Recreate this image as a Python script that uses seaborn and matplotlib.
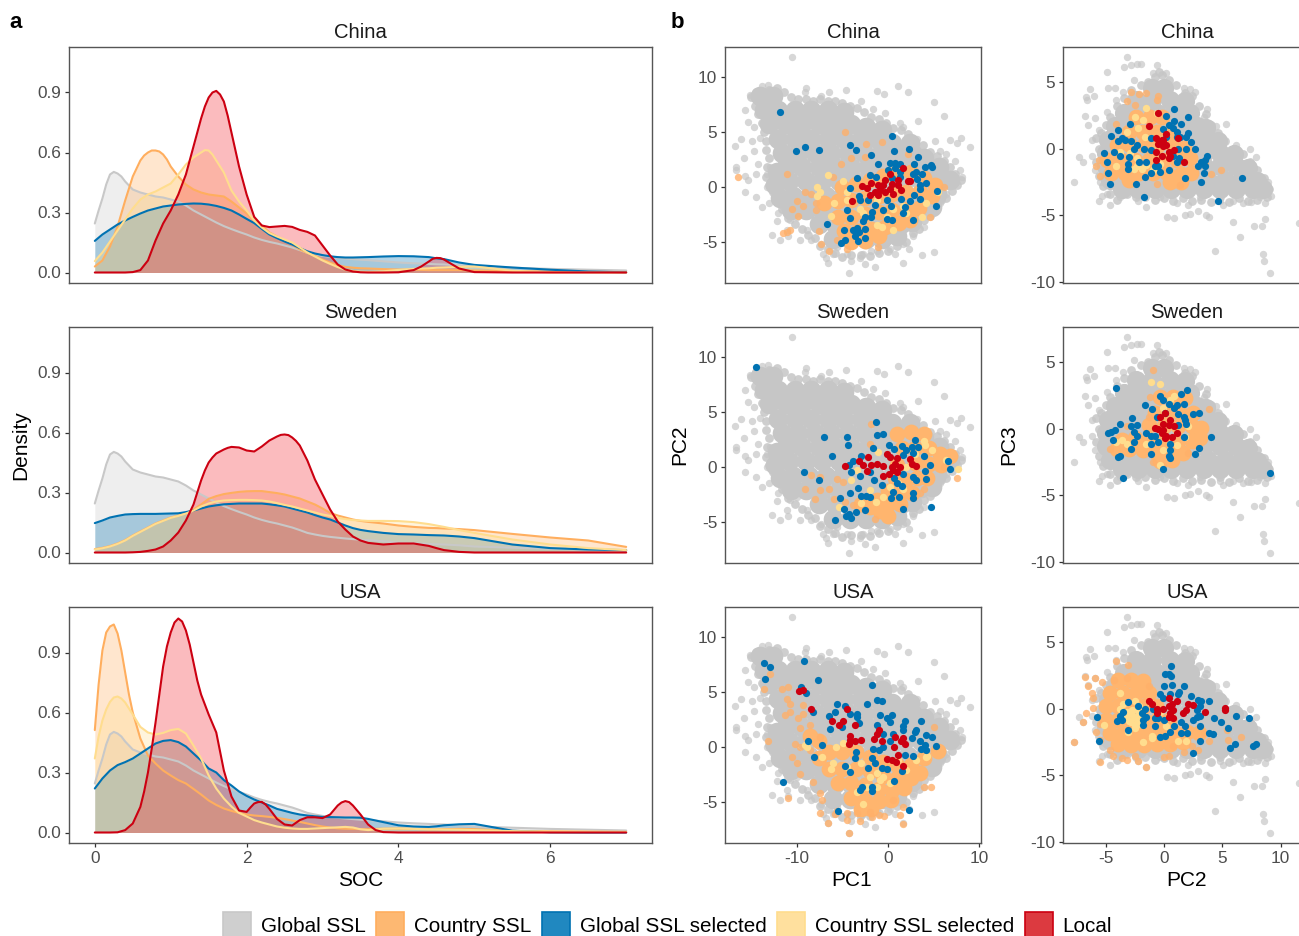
import numpy as np
import pandas as pd
import seaborn as sns
import matplotlib
matplotlib.use("Agg")
import matplotlib.pyplot as plt
from matplotlib.patches import Patch

sns.set_theme(style="white")
plt.rcParams["font.family"] = ["Liberation Sans", "DejaVu Sans"]
plt.rcParams["axes.unicode_minus"] = False

COUNTRIES = ["China", "Sweden", "USA"]
SOURCES = ["Global SSL", "Country SSL", "Global SSL selected", "Country SSL selected", "Local"]
COLORS = {"Global SSL": "#C8C8C8", "Country SSL": "#FFAE5E", "Global SSL selected": "#0072B2",
          "Country SSL selected": "#FFDD8E", "Local": "#CC0011"}
FILLS = {"Global SSL": "#C8C8C8", "Country SSL": "#FFAE5E", "Global SSL selected": "#0072B2",
         "Country SSL selected": "#FFDD8E", "Local": "#F5202A"}
LEGEND_FILLS = {"Global SSL": "#CFCFCF", "Country SSL": "#FDB872", "Global SSL selected": "#2088C0",
                "Country SSL selected": "#FFE09E", "Local": "#DC3A40"}

SOC = [0, .1, .2, .3, .4, .5, .6, .7, .8, .9, 1.0, 1.1, 1.2, 1.3, 1.4, 1.5, 1.6, 1.7, 1.8, 1.9, 2.0, 2.1, 2.2, 2.3, 2.4,
       2.5, 2.6, 2.7, 2.8, 2.9, 3.0, 3.1, 3.2, 3.3, 3.4, 3.5, 3.6, 3.8, 4.0, 4.2, 4.4, 4.5, 4.6, 4.8, 5.0, 5.5, 6, 6.5, 7]

GLOBAL_D = [.245, .37, .49, .495, .455, .415, .40, .39, .38, .375, .365, .355, .335, .31, .29, .27, .25, .232, .217, .203,
            .19, .175, .163, .153, .145, .135, .125, .112, .098, .09, .083, .078, .074, .07, .067, .064, .062, .056, .05,
            .046, .043, .041, .04, .036, .03, .024, .018, .014, .01]
GLOBAL_PEAK = [(.05, .31), (.15, .44), (.25, .503), (.35, .48)]

CHINA_COUNTRY_D = [.03, .06, .13, .23, .36, .48, .56, .60, .61, .59, .53, .48, .44, .415, .40, .39, .385, .38, .355, .325,
                   .295, .26, .235, .20, .18, .16, .138, .115, .098, .083, .065, .05, .037, .028, .024, .021, .02, .017,
                   .015, .014, .012, .012, .012, .012, .01, .007, .005, .003, .002]
CHINA_COUNTRY_PEAK = [(.65, .585), (.75, .61), (.85, .605), (.95, .565)]
CHINA_GSEL_D = [.158, .19, .215, .24, .26, .278, .295, .31, .32, .33, .335, .34, .343, .345, .344, .34, .333, .323, .31, .29,
                .268, .247, .218, .19, .172, .155, .14, .122, .106, .095, .087, .081, .077, .075, .075, .076, .077, .08,
                .082, .081, .077, .071, .067, .05, .038, .025, .014, .005, .001]
CHINA_CSEL_D = [.057, .1, .155, .21, .265, .32, .365, .39, .405, .425, .445, .49, .54, .575, .60, .61, .56, .50, .41, .355,
                .31, .26, .225, .197, .18, .165, .15, .125, .10, .08, .06, .043, .027, .014, .008, .004, .003, .006, .013,
                .018, .021, .024, .025, .028, .03, .009, 0, 0, 0]
CHINA_CSEL_PEAK = [(1.45, .612), (1.55, .59), (1.65, .53)]
CHINA_LOCAL_D = [0, 0, 0, 0, 0, .002, .012, .06, .16, .245, .31, .39, .49, .63, .77, .875, .908, .855, .70, .53, .39, .278,
                 .235, .227, .23, .233, .228, .213, .203, .185, .135, .085, .04, .015, .005, .001, 0, 0, .001, .012, .055,
                 .073, .065, .02, .002, 0, 0, 0, 0]
CHINA_LOCAL_PEAK = [(1.35, .70), (1.45, .83), (1.55, .90), (1.65, .89), (1.75, .785), (1.85, .615), (4.45, .068), (4.55, .072),
                    (4.3, .03), (4.7, .042)]

SWEDEN_COUNTRY_D = [.017, .023, .032, .045, .062, .085, .105, .125, .145, .16, .175, .185, .197, .215, .24, .268, .282, .292,
                    .298, .303, .306, .307, .307, .302, .297, .29, .28, .27, .255, .24, .22, .198, .185, .175, .165, .158,
                    .153, .145, .135, .128, .123, .122, .12, .117, .112, .093, .075, .06, .028]
SWEDEN_GSEL_D = [.147, .16, .175, .183, .19, .192, .193, .193, .193, .194, .195, .196, .202, .21, .22, .23, .236, .241, .243,
                 .245, .245, .245, .245, .241, .236, .23, .22, .21, .2, .187, .175, .165, .15, .135, .122, .113, .107, .098,
                 .092, .09, .087, .086, .085, .08, .072, .04, .022, .015, .012]
SWEDEN_CSEL_D = [.015, .021, .03, .043, .06, .083, .103, .123, .143, .158, .173, .183, .195, .21, .23, .245, .255, .26, .262,
                 .263, .263, .262, .26, .255, .247, .238, .23, .22, .21, .2, .19, .183, .173, .167, .162, .16, .158, .158,
                 .157, .152, .142, .135, .128, .112, .098, .065, .04, .022, .012]
SWEDEN_LOCAL_D = [0, 0, 0, 0, 0, .001, .003, .008, .015, .03, .06, .10, .16, .24, .36, .45, .495, .515, .528, .525, .51, .505,
                  .53, .56, .58, .59, .575, .535, .46, .365, .29, .215, .155, .115, .08, .06, .048, .04, .045, .045, .033,
                  .022, .012, .003, 0, 0, 0, 0, 0]
SWEDEN_LOCAL_PEAK = [(1.45, .41), (1.55, .475), (1.75, .523), (2.45, .588), (2.55, .587), (2.65, .558)]

USA_COUNTRY_D = [.512, .91, 1.03, .995, .80, .60, .47, .385, .345, .31, .285, .262, .245, .218, .19, .16, .138, .12, .108,
                 .098, .09, .085, .082, .078, .073, .067, .06, .053, .045, .037, .03, .025, .021, .019, .018, .017, .017,
                 .019, .02, .018, .016, .016, .017, .018, .017, .008, .006, .004, .003]
USA_COUNTRY_PEAK = [(.05, .74), (.15, 1.0), (.25, 1.04), (.35, .91), (.45, .69)]
USA_GSEL_D = [.22, .27, .31, .337, .352, .37, .395, .42, .445, .458, .462, .452, .43, .395, .36, .32, .30, .262, .235, .205,
              .183, .165, .15, .135, .118, .108, .098, .09, .085, .081, .078, .077, .076, .075, .075, .074, .068, .052, .036,
              .03, .028, .031, .036, .041, .043, .009, .001, 0, 0]
USA_CSEL_D = [.37, .56, .653, .68, .65, .59, .528, .50, .49, .498, .512, .518, .495, .435, .37, .285, .22, .17, .13, .098,
              .08, .062, .05, .04, .03, .024, .02, .018, .018, .02, .022, .024, .026, .028, .025, .016, .012, .019, .02, .018,
              .016, .016, .015, .014, .012, .007, .005, .004, .003]
USA_CSEL_PEAK = [(.05, .48), (.15, .615), (.25, .675), (.35, .67)]
USA_LOCAL_D = [0, 0, 0, .001, .012, .045, .128, .30, .55, .83, 1.0, 1.07, 1.01, .85, .69, .59, .50, .31, .18, .11, .103, .145,
               .153, .118, .068, .04, .035, .062, .076, .076, .072, .09, .135, .157, .135, .09, .04, .002, 0, 0, 0, 0, 0, 0,
               0, 0, 0, 0, 0]
USA_LOCAL_PEAK = [(.65, .205), (.75, .42), (.85, .69), (.95, .93), (1.05, 1.05), (1.15, 1.055), (1.25, .94), (1.35, .76), (2.05, .125),
                  (2.15, .152), (2.25, .14), (3.25, .15), (3.35, .152), (3.7, .012)]

DENSITY = {
    "China": [(GLOBAL_D, GLOBAL_PEAK), (CHINA_COUNTRY_D, CHINA_COUNTRY_PEAK), (CHINA_GSEL_D, []), (CHINA_CSEL_D, CHINA_CSEL_PEAK),
              (CHINA_LOCAL_D, CHINA_LOCAL_PEAK)],
    "Sweden": [(GLOBAL_D, GLOBAL_PEAK), (SWEDEN_COUNTRY_D, []), (SWEDEN_GSEL_D, []), (SWEDEN_CSEL_D, []), (SWEDEN_LOCAL_D, SWEDEN_LOCAL_PEAK)],
    "USA": [(GLOBAL_D, GLOBAL_PEAK), (USA_COUNTRY_D, USA_COUNTRY_PEAK), (USA_GSEL_D, []), (USA_CSEL_D, USA_CSEL_PEAK), (USA_LOCAL_D, USA_LOCAL_PEAK)],
}

# ---------- PC1 / PC2 ----------
GLOBAL_12_DENSE = [(-14, 8.3), (-12.6, 8.3), (-1, 5), (-.6, 5.2), (2.4, 4), (4, 2.6), (5.6, 1.8), (4.8, -1.8),
    (-12.2, 1.4), (-12.4, .2), (-11.8, -1), (-10.6, -2.1),
    (-13.6, 7), (-12, 7), (-10.2, 7), (-8.4, 7), (-6.6, 7), (-4.8, 6.8),
    (-13, 5.7), (-11.2, 5.7), (-9.4, 5.7), (-7.6, 5.7), (-5.8, 5.7), (-4, 5.7), (-2.4, 5.5),
    (-12, 4.4), (-10.2, 4.4), (-8.4, 4.4), (-6.6, 4.4), (-4.8, 4.4), (-3, 4.4), (-1.2, 4.4), (.4, 4),
    (-11.6, 3.1), (-9.8, 3.1), (-8, 3.1), (-6.2, 3.1), (-4.4, 3.1), (-2.6, 3.1), (-.8, 3.1), (1, 3.1), (2.8, 3),
    (-11.2, 1.8), (-9.4, 1.8), (-7.6, 1.8), (-5.8, 1.8), (-4, 1.8), (-2.2, 1.8), (-.4, 1.8), (1.4, 1.8), (3.2, 1.8), (5, 1.6),
    (-10.8, .5), (-9, .5), (-7.2, .5), (-5.4, .5), (-3.6, .5), (-1.8, .5), (0, .5), (1.8, .5), (3.6, .5), (5.4, .5), (6.8, .6),
    (-10.4, -.8), (-8.6, -.8), (-6.8, -.8), (-5, -.8), (-3.2, -.8), (-1.4, -.8), (.4, -.8), (2.2, -.8), (4, -.8), (5.4, -.6),
    (-9, -2.1), (-7.2, -2.1), (-5.4, -2.1), (-3.6, -2.1), (-1.8, -2.1), (0, -2.1), (1.8, -2.1), (3.6, -1.9),
    (-7.6, -3.4), (-5.8, -3.4), (-4, -3.4), (-2.2, -3.4), (-.4, -3.4), (1.4, -3.4), (2.6, -3.2),
    (-6, -4.7), (-4.2, -4.7), (-2.4, -4.7), (-.6, -4.7), (1, -4.5)]
GLOBAL_12_RIM = [(-15, 8.2), (-14.6, 7.4), (-14.2, 6.6), (-13.8, 5.8), (-13.6, 5), (-13.4, 4.2), (-13.4, 3.4), (-13, 2.6), (-13.2, 1.8), (-13.4, .9),
    (-13, .2), (-12.6, -.5), (-12.2, -1.2), (-11.6, -2), (-11, -2.8), (-10.2, -3.4), (-9.4, -3.8), (-8.8, -4.4), (-8, -4.6), (-7.4, -5.4), (-6.6, -5.6),
    (-5.8, -6), (-5, -6.4), (-4, -6.2), (-3, -6.2), (-2, -6.3), (-1, -6), (0, -5.8), (1, -5.4), (2, -5), (2.8, -4.2), (3.4, -3.8), (4, -3), (4.6, -2.6),
    (5.2, -2), (5.8, -1.2), (6.4, -1), (7, -.4), (7.6, .2), (8, .6), (7.4, 1.2), (6.8, 1.8), (6.2, 2.4), (5.4, 2.8), (4.6, 3.2), (3.8, 3.8), (3, 4.2),
    (2.2, 4.8), (1.4, 5.2), (.6, 5.4), (-.2, 5.8), (-1, 6.2), (-1.8, 6.4), (-2.6, 6.8), (-3.4, 7.2), (-4.2, 7.4), (-5, 7.6), (-5.8, 7.8), (-6.6, 7.8),
    (-7.4, 8), (-8.2, 7.8), (-9, 8), (-9.8, 8), (-10.6, 8.2), (-11.4, 8.6), (-12.2, 9), (-13, 8.8), (-13.6, 8.6), (-14.4, 8.6)]
GLOBAL_12_SPREAD = [(-10.5, 11.8), (-16.7, 3.7), (-16.1, 4.4), (-15.7, 7), (-15.1, 8.4), (-13.8, 9.2), (-13.1, 9.3),
    (-14.6, 8), (-15.3, 5.9), (-14.7, 5.5), (-15.8, 2.6), (-16.6, 1.8), (-16.6, 1.5), (-15.7, 1), (-15.7, -.5), (-14.4, -.9),
    (-13.8, -1.8), (-13, -1.5), (-12, -2.4), (-12.2, -3.1), (-12.7, -4.4), (-11.8, -4.8), (-10.9, -4.5), (-9.6, -4.8),
    (-8.4, -4.8), (-7.3, -5.2), (-6.8, -6.5), (-6.6, -6.9), (-6, -6.1), (-4.3, -7.8), (-4, -6.7), (-3.1, -6.5), (-2.5, -7),
    (-1.4, -7.3), (-1.8, -5.8), (.8, -6.1), (1.7, -6.9), (2.3, -5.6), (3.7, -6.2), (5.1, -5.9), (1.1, 9.2), (2.2, 8.6),
    (-1.2, 8.7), (-.4, 8.5), (-4.6, 8.8), (-9, 9), (-9.1, 8.6), (-7.3, 8.3), (-6.4, 8.6), (-2.9, 7.8), (-1.6, 7.1), (-.3, 6.7),
    (1.3, 5.8), (3.3, 6), (5.1, 7.7), (6.2, 6.5), (1.7, 5.5), (3.2, 4.4), (5.2, 4.2), (6.8, 4.3), (8, 4.5), (7.6, 4), (9, 3.6),
    (5.7, 3.3), (8.1, .9), (7.9, 1.5), (7.3, 2.4), (6.4, 3), (7.2, .6), (6.4, -.6), (5.7, -1.5), (5.1, -2.1), (3.9, -3.6),
    (2.8, -4.5), (1.7, -5.2), (.2, -5.6), (-1.2, -5.8), (-2.7, -6.1), (-4.5, -6.1), (-5.6, -5.5), (-7.1, -6.1), (-11.1, -3.9),
    (-10.7, -3), (-11.5, -1.8), (-13.3, 0), (-14.4, 1.2), (-14.9, 4.2), (-14.7, 3.3), (-14.2, 2.1), (-15.3, .6), (-12.9, 1.8),
    (-14, 4.5), (-13.3, 1.2), (-12, -.9), (-10, -2.7), (-8.9, -3.9)]

CHINA_12_COUNTRY_DENSE = [(-5, 0), (-3.5, .3), (-2, .6), (-.5, 1), (1, 1.4), (2.5, 1.4), (4, .8), (5.2, .2),
    (-7, -1.5), (-5.5, -1.3), (-4, -1.2), (-2.5, -1), (-1, -.8), (.5, -.6), (2, -.5), (3.5, -.5), (4.8, -.8),
    (-5.5, -2.7), (-4, -2.7), (-2.5, -2.5), (-1, -2.3), (.5, -2.1), (2, -2), (3.4, -1.9),
    (-4.8, -4), (-3.3, -4), (-1.8, -3.8), (-.3, -3.6), (1.2, -3.3), (2.4, -3), (-4, -5), (-2.5, -4.9), (-1, -4.5)]
CHINA_12_COUNTRY = [(-4.7, 5), (-2.4, 3.9), (-.7, 4.1), (-11.1, 1.2), (-16.4, .9), (-9.1, -.5), (-10, -1.3), (-10.5, -2),
    (-9.3, -1.7), (-9.9, -2.6), (-11.5, -4.2), (-11.1, -4.1), (-10.7, -3.9), (-7.6, -4), (-7.3, -5.2), (-6.5, -5.8), (-1.1, -5.5),
    (-5.1, 2.1), (-4, 2.6), (-2.5, 2.7), (-7.9, -1.5), (-7.9, -2.1), (-8.4, -.6), (-6, .9), (2.2, 3), (-4.5, -5.6), (-5.6, -4.8),
    (4.6, -2.7), (6.1, 0)]
CHINA_12_CSEL = [(-6.6, 1.1), (-7.8, 0), (-7.4, -.5), (-7.8, -.8), (-4.9, .5), (-5.9, -1.5), (-6.2, -2.6), (-4.5, -.5), (-3.1, -2),
    (-1.2, -1.2), (.6, -2), (1.7, -1.7), (-1.2, -3.5), (.6, -3.9), (3.7, -2.7), (4.2, -1.5), (2, -2.4), (-.1, -2.7), (-2.7, -2.4),
    (5.5, -.5), (-.7, -3.6), (-4.5, -1.2)]
CHINA_12_GSEL = [(-11.8, 6.8), (-10.1, 3.3), (-9.1, 3.6), (-7.6, 3.4), (-4.2, 3.8), (-3.5, 3.4), (-1.8, 2.9), (.5, 4.6), (.7, 3.3),
    (2.3, 3.5), (3.3, 2.7), (-1.1, 2.1), (.2, 2.2), (.8, 2.2), (1.3, 2.1), (2.9, 2.1), (4.1, 1.8), (4.7, 2), (4.8, 1.8), (0, 1.5),
    (.8, 1.7), (1.3, 1.4), (3.1, 1.4), (2.8, 1.2), (3.7, 1.2), (-2, 1.1), (-3.4, .8), (-1.3, .9), (.4, .8), (1.3, .9), (3.2, .7),
    (3.5, .2), (4.2, .4), (-4.1, -.1), (5.4, -.4), (5.3, -1.7), (3.5, -.2), (2.9, -.7), (3.5, -1.1), (-3.2, -.8), (-3.1, -1.2),
    (-2.2, -1.2), (-1.4, -1.6), (-.1, -1.2), (1.4, -1.1), (2.4, -1.3), (.3, -1.7), (1.9, -1.8), (-4.5, -2.1), (-4.1, -2.8),
    (-.5, -2.1), (-1.7, -2.3), (-2.5, -2.7), (-2.7, -3.1), (-1.8, -2.7), (-.1, -2.9), (.4, -3), (1.6, -2.4), (2.7, -3), (-6.7, -3.4),
    (-4.8, -3.9), (-3.4, -3.7), (-2.5, -3.8), (-3.8, -3.9), (-3.2, -4.1), (-3.6, -4.5), (-2.5, -4.6), (-3.3, -4.9), (-4.7, -4.8),
    (-5.1, -5.1)]
CHINA_12_LOCAL = [(1.6, 1.7), (.2, 1.2), (-.3, .6), (-2.8, .1), (-2.3, -.1), (-1.8, .4), (-1.1, .2), (-.5, .2), (.4, .3), (1.1, .6),
    (2.2, .5), (2.4, .5), (-2, -.7), (-1.4, -.5), (-.9, -.3), (-.3, -.5), (.6, -.6), (1.4, -.3), (-3.9, -1.3), (1.1, .2), (.2, -.2),
    (-1.1, -.7)]

SWEDEN_12_COUNTRY_DENSE = [(1, 3), (2.5, 3.2), (4, 3), (1.5, 1.7), (3, 1.7), (4.5, 1.7), (5.7, 1.2), (6.8, 1), (3, .4), (4.5, .3),
    (5.8, .2), (1, .2), (.8, -1), (2, -1.2), (3.2, -1), (4.3, -1), (0, -2.2), (1.3, -2.4), (2.6, -2.4), (-1.2, -3), (0, -3.4),
    (1.3, -3.4), (-3, -3.4), (-2, -3.6), (-.9, -4), (0, -4.5)]
SWEDEN_12_COUNTRY = [(-1.8, 3.9), (-8.4, -.7), (-9.1, -2), (-7.4, -2.1), (-6.5, -2), (-8, -2.9), (-7.4, -.9), (-5.6, -1.1),
    (-4.9, -1.4), (-5.9, -2.9), (7.6, -1), (4, -2), (6.2, 0), (-2, 2.1), (-4.7, -3.2), (-3.8, -3.5), (-1.4, -4.7), (1.7, -3.6), (3.5, -2.4)]
SWEDEN_12_CSEL = [(-5.4, -3.6), (-4, -1.2), (-3.4, -.3), (-1.1, 1.4), (-2, -2.1), (-2.9, -3.3), (-1.3, -3.2), (1.7, -2), (1.1, -1.5),
    (3.9, 2.4), (4.1, 2), (4.8, 1.5), (7.7, -.2), (2, 0), (.2, -1.8), (3, 1.2), (6.4, .6), (-.5, -2.7)]
SWEDEN_12_GSEL = [(-14.5, 9.1), (-1.3, 4.1), (-7, 2.7), (-4.5, 2.7), (-1.2, 2.9), (-.5, 3), (-4.4, 2), (3, 2.5), (-6.1, 1), (-1.6, 1.7),
    (.1, 2), (1.5, 1.9), (2.6, 1.8), (3.3, 1.8), (.7, 1.6), (2, 1.5), (2.8, 1.3), (1.7, 1.1), (3.9, 1), (-3, 1), (-3.8, .5), (-4.3, .2),
    (4.6, .2), (6.6, .5), (6.8, -.2), (4.1, -.4), (-9.2, -.5), (-7.6, -1.2), (-4, -.5), (-3.1, -.8), (-2, -.5), (-1.5, -1.2), (-.7, -1.6),
    (.7, -1), (1.7, -.6), (2.8, -.9), (3.1, -1.2), (4.2, -1.1), (1, -1.5), (1.5, -1.7), (-3.3, -1.9), (-4.2, -2.4), (-5.2, -2.8),
    (-2.9, -2.6), (-2.4, -2.6), (-2, -2.7), (.6, -2.3), (.3, -2.8), (1.2, -2.7), (2.8, -2.4), (2.7, -2.8), (4.7, -3.6), (1.6, -3.8),
    (-4.8, -3.8), (-2.5, -3.9), (-3.5, -4.1), (-4.3, -4.3), (-4.6, -4.5), (-4, -4.6), (-5.8, -4.8)]
SWEDEN_12_LOCAL = [(-4.7, .1), (-3.2, .5), (-2.7, .2), (-2.2, .9), (-2.3, -.4), (-1.8, .2), (-1.2, .3), (-.5, .1), (-.1, 1.2), (.2, .9),
    (1, .8), (.8, .3), (.4, 0), (1.3, 0), (2.4, .7), (2.6, .3), (3.1, .1), (-.5, -.8), (.1, -.6), (1, -.5), (.6, -.3)]

USA_12_COUNTRY_DENSE = [(-6.5, -.5), (-5, -.5), (-3.5, -.5), (-2, -.9), (-.5, -1.4), (1, -1.6), (2.5, -1.6), (4, -1), (5.5, -.4),
    (-6.5, -2), (-5, -2), (-3.5, -2), (-2, -2.2), (-.5, -2.6), (1, -2.8), (2.5, -2.8), (3.5, -2.4), (-5.5, -3.3), (-4, -3.3), (-2.5, -3.5),
    (-1, -3.8), (.5, -3.9), (1.8, -3.7), (-4, -4.6), (-2.5, -4.8), (-1, -4.9), (.3, -4.8), (-3, -5.6), (-1.9, -5.6), (-7.5, -1), (-8.5, 1),
    (-7.5, .5)]
USA_12_COUNTRY = [(-13.6, 5.3), (-12.9, 6.6), (-11.6, 5.3), (-10.9, 5.5), (-11.1, 4.4), (-10.7, 3.9), (-10.7, 3.2), (-11.3, 2.9), (-9.8, 2.6),
    (-9.3, 3.8), (-9.3, 3), (-8.5, 2), (-9.6, 1.7), (-10.2, .3), (-9.6, 0), (-13.1, .5), (-10.5, -.9), (-10, -1.5), (-9.6, -2.5), (-8.2, -3.2),
    (-10.9, -4.6), (-7.4, -4.2), (-7.2, -4.8), (-7.4, -6), (-6.6, -6.9), (-5.8, -6.1), (-4.5, -6.6), (-4.3, -7.8), (-3.1, -6.7), (-2, -5.9),
    (-1.7, -6.4), (-1, -6.2), (-.4, -6.3), (1.3, -6.2), (1.7, -5.5), (1.6, -7), (.6, -4.8), (3.9, -3.6), (4.7, -3.6), (5, 1.8), (-7.4, .9),
    (-8.5, -.3), (-5.6, -5.8), (-4.5, -6), (-3.4, -6)]
USA_12_CSEL = [(-9.1, .2), (-8.9, 0), (-7.2, -.9), (-5.7, 0), (-4.9, .4), (-6, -1.5), (-6.2, -2), (-4.5, -1.8), (-2.9, -1.5), (-1.2, -2.4),
    (-2, -2.7), (-.5, -2.7), (-3.4, -4.1), (-2.7, -5.2), (-2.3, -3.6), (-1.2, -3.6), (.2, -3.3), (2, -2.1), (4.3, -.8), (3.1, -1.2), (4.2, -.9),
    (1.1, -1.2), (-.9, -3)]
USA_12_GSEL = [(-13.6, 7.6), (-12.9, 7.3), (-13.5, 6.2), (-9.2, 7.8), (-7.7, 6.1), (-9.5, 5.5), (-9, 4.9), (-8.2, 3.2), (-1.7, 5.6), (-1.2, 4.3),
    (-.7, 4.2), (-2.3, 3.9), (-5.6, 3.9), (-4.7, 3.7), (-5.8, 3.2), (-6.4, 2.8), (-4.1, 3), (-3.4, 3), (-3.4, 2.7), (-3.2, 2.2), (-.9, 2.9),
    (.4, 2.9), (-.1, 2.6), (.2, 2.3), (1.9, 2.4), (3.6, 2.4), (-6.3, 1.6), (-5, 1.8), (-1.2, 2), (1.7, 1.9), (1.7, 1.5), (-.5, 1.2), (.6, 1.2),
    (3, 1.4), (3.1, 1.5), (4.2, 1.1), (4.8, .9), (2.6, .8), (3.5, .5), (-8.8, .5), (-7.2, .2), (-1.6, -.2), (-1, -.3), (-.5, 0), (.2, .5),
    (3.6, -.2), (4.1, .2), (4.2, -.3), (5.3, .1), (2.8, -.8), (1.9, -.7), (-3.5, -.5), (-3.6, -1), (-8.1, -.9), (-1.7, -1), (-1.4, -1.5),
    (-4.7, -1.7), (-4.2, -2.3), (-2.2, -1.9), (-.6, -1.9), (-.1, -2), (1.5, -2.2), (.7, -3.1), (-11.5, -3.2), (-2.8, -3.6), (-3.1, -3.9),
    (-1.7, -3.6), (-1.7, -4), (-5.5, -5.8), (2.3, -5.7)]
USA_12_LOCAL = [(-9.7, 5.1), (-9.3, 5.2), (-8.4, 3.5), (-4.5, 3.5), (-6.1, 2.4), (-5.4, 2), (-4.9, 2.4), (-3.6, 2), (-1, 1.5), (-1.2, 1.2),
    (-1.5, .7), (-4.2, 1), (-4.2, .6), (-2.9, .6), (-3.6, .5), (-4.3, .3), (-.7, .5), (.8, .9), (1.7, .8), (1.4, .5), (1.9, .3), (.7, 0),
    (1.1, -.7), (-.1, -1.1), (.4, -1.2), (.9, -1.4), (1.6, -1.7)]

# ---------- PC2 / PC3 ----------
GLOBAL_23_DENSE = [(-1, 4.6), (0, 4.6),
    (-2.4, 3.7), (-1, 3.7), (.5, 3.7), (1.8, 3.6),
    (-3.4, 2.7), (-2, 2.7), (-.6, 2.7), (.8, 2.7), (2.2, 2.7),
    (-4.2, 1.7), (-2.8, 1.7), (-1.4, 1.7), (0, 1.7), (1.4, 1.7), (2.8, 1.7), (3.6, 1.6),
    (-4.8, .7), (-3.4, .7), (-2, .7), (-.6, .7), (.8, .7), (2.2, .7), (3.6, .7), (4.6, .6),
    (-5, -.3), (-3.6, -.3), (-2.2, -.3), (-.8, -.3), (.6, -.3), (2, -.3), (3.4, -.3), (4.8, -.3), (6, -.4),
    (-5, -1.3), (-3.6, -1.3), (-2.2, -1.3), (-.8, -1.3), (.6, -1.3), (2, -1.3), (3.4, -1.3), (4.8, -1.3), (6.2, -1.3), (7.2, -1.4),
    (-4.6, -2.3), (-3.2, -2.3), (-1.8, -2.3), (-.4, -2.3), (1, -2.3), (2.4, -2.3), (3.8, -2.3), (5.2, -2.3), (6.6, -2.3), (8, -2.4),
    (-3.6, -3), (-2.2, -3), (-.8, -3), (.6, -3), (2, -3), (3.4, -3), (4.8, -3), (6.2, -3), (7.6, -3), (8.5, -3)]
GLOBAL_23_RIM = [(-5.8, .8), (-5.6, 0), (-5.8, -1), (-5.6, -2), (-5.2, -2.8), (-4.6, -3.4), (-4, -3.8), (-3.2, -3.4), (-2.4, -3.6), (-1.6, -3.6),
    (-.8, -3.8), (0, -3.7), (.8, -3.9), (1.6, -3.7), (2.4, -3.9), (3.2, -3.8), (4, -4), (4.8, -3.6), (5.6, -4), (6.4, -3.7), (7.2, -3.9), (8, -3.8),
    (8.8, -3.6), (9, -3), (8.6, -2.2), (8, -1.6), (7.4, -1), (6.8, -.4), (6, 0), (5.2, .6), (4.6, 1.2), (4, 1.8), (3.6, 2.6), (3, 3.2), (2.4, 4),
    (1.8, 4.2), (1, 4.8), (.4, 5.2), (-.2, 5.6), (-.8, 5.4), (-1.4, 5), (-2, 4.8), (-2.8, 4.4), (-3.4, 3.8), (-4, 3.2), (-4.6, 2.4), (-5, 1.8),
    (-5.4, 1.2), (-.4, 5.8)]
GLOBAL_23_SPREAD = [(-3.2, 6.9), (-3.4, 6.2), (-2.8, 6.3), (-2.3, 6.4), (-2, 6.4), (-.6, 6.3), (-4.9, 5.8), (-4.8, 4.6), (-4.2, 4.6), (-6.3, 4.5),
    (-6.7, 3.9), (-6.6, 3.7), (-6, 4), (-6.8, 2.5), (-5.9, 2.3), (-6.5, 1.8), (-7.3, -.6), (-6.9, -1), (-7.7, -2.5), (-5.6, -3.9), (-4.6, -4.2),
    (-5.3, -3.5), (-2.2, -3.9), (-1.5, -4.4), (.3, -5.1), (.9, -5.2), (1.8, -5), (2.2, -4.9), (2.9, -4.7), (3.6, -5), (3.9, -5.1), (5.9, -5.5),
    (7.7, -5.8), (8.4, -5.8), (8.7, -5.3), (11.6, -5.6), (6.5, -6.6), (4.4, -7.7), (8.5, -7.9), (8.6, -8.4), (9.1, -9.3), (1.1, -4.1), (2.1, -4.2),
    (5.1, -4.2), (6.8, -4.1), (7.5, -4), (8.7, -4.1), (9.2, -3.5), (8.9, -2.5), (7.9, -.6), (7.4, 0), (6.2, .3), (5.3, 1.9), (4.5, 1.7), (3.7, 3),
    (2.7, 4.3), (2.2, 4.5), (1.7, 4.6), (.2, 5.7), (-.9, 5.7), (-2.6, 5.2), (-3.5, 4.3), (-4.1, 3.7), (-4.9, 2.8), (-5.6, 1.4), (-6.2, .7),
    (-6.2, -.5), (-5.9, -1.6), (-5.5, -2.5), (-4.9, -3.4), (-3.8, -3.6), (-.3, -3.6), (3.1, -3.6), (4.8, -3.9), (8.2, -3.6), (5.9, -3.9),
    (7.7, -2.1), (6.5, -1.1), (4.2, .7), (3.4, 2.4)]

CHINA_23_COUNTRY_DENSE = [(-2.4, 2.4), (-1.2, 2.4), (-.2, 2.4), (-3, 1.3), (-1.8, 1.3), (-.6, 1.3), (.4, 1.2), (-4, .3), (-2.9, .3), (-1.7, .3),
    (-.5, .3), (.7, .3), (1.7, .1), (-4.9, -.8), (-3.7, -.8), (-2.5, -.8), (-1.3, -.8), (-.1, -.8), (1.1, -.8), (2.2, -.7), (-4.5, -1.8),
    (-3.3, -1.8), (-2.1, -1.8), (-.9, -1.8), (.3, -1.8), (1.5, -1.9), (2.3, -1.8), (-3, -2.3), (.5, -2.5), (1.5, -2.5)]
CHINA_23_COUNTRY = [(-2.8, 4.3), (-3.2, 3.6), (-2.1, 4.1), (-1.5, 4.2), (-.5, 4), (-.6, 3.7), (-2.5, 3.3), (-4.1, 1.9), (-5.6, -.8), (-5.8, -1.3),
    (-5.5, -2), (4.9, -1.6), (4, -1.9), (-.6, -2.6), (1.4, -2.7), (3.5, -1.1)]
CHINA_23_CSEL = [(-1.5, 3.1), (-2.5, 2.4), (-1.8, 2.2), (-2.2, 1.6), (-1.6, .9), (-.6, 2.7), (-4.1, -1.3), (-2.9, -.3), (-2.3, -.7), (-2.3, -1.3),
    (-1.5, -1.2), (-.9, -1.6), (-.3, -1.1), (1.2, -.7), (-3.8, -.2), (-3.2, 1.3), (-1.9, -1.5), (-2.6, -1.5)]
CHINA_23_GSEL = [(.9, 3), (.2, 2.5), (2.1, 2.4), (.9, 2.1), (1.5, 1.9), (.4, 1.8), (.8, 1.6), (-.1, 1.5), (1.1, 1.3), (2.1, 1.2), (1.9, .9), (-2.9, 1.9),
    (-3.9, 1.4), (-4.5, 1), (-3.9, .6), (-3.6, .8), (-3.3, .7), (-1.1, .8), (-2.8, .6), (-2.3, .3), (-2.6, 0), (.2, .9), (1.1, .9), (1.4, .9), (2.3, .5),
    (-1.7, 0), (-1.1, -.1), (-4.3, -.2), (-5.1, -.3), (-3.8, -.5), (-4.9, -1), (-4.8, -1.8), (-3, -.6), (-3.1, -1.1), (-2.1, -1), (-1.5, -1), (1.2, 0),
    (1.9, 0), (2.7, 0), (.8, -.5), (1.3, -.7), (1.1, -1), (3.7, -.5), (3.5, -.8), (3.2, -1), (2.9, -1.3), (3.5, -1.3), (3.4, -1.8), (-3.1, -1.5),
    (-.8, -1.3), (-.5, -1.3), (-1.1, -1.8), (-1.6, -2.1), (.4, -1.6), (-.3, -1.7), (1.8, -2.2), (3.2, -2.5), (-4.6, -2.6), (-2.4, -2.6), (-1.7, -3.6),
    (4.6, -3.9), (6.7, -2.2)]
CHINA_23_LOCAL = [(-.5, 2.7), (-1.3, 1.7), (1.2, .8), (1.7, -1), (-.7, -.8), (-.7, .8), (.2, 1.1), (-.2, .7), (-.5, .4), (-.1, .2), (.2, .3), (-.7, -.2),
    (-.2, -.5), (.4, -.7), (.5, -.5), (.9, -.1), (-.1, .7), (.4, -.2)]

SWEDEN_23_COUNTRY_DENSE = [(-.3, 2.4), (.8, 2.4), (1.8, 2.3), (-.8, 1.2), (.3, 1.2), (1.4, 1.2), (2.5, 1.2), (-1.3, .3), (0, .2), (1.2, .2), (2.4, .2),
    (3.2, .1), (-3.6, -.8), (-2.5, -.7), (-1.3, -.8), (0, -.9), (1.2, -.9), (2.4, -.9), (3.1, -.7), (-4, -1.5), (-3, -1.5), (-1.8, -1.6), (-.6, -1.8),
    (.6, -1.9), (1.6, -1.8), (-.3, -2.4), (.7, -2.3)]
SWEDEN_23_COUNTRY = [(-.9, 4.4), (3.9, 1.5), (-1.2, 2.4), (-.9, -2.5), (2.1, -1.8), (-4.6, -1.5), (-.1, -2.8), (-1.3, .9), (-3.2, .2)]
SWEDEN_23_CSEL = [(-1.1, 3.5), (-.3, 3.4), (.9, 2.5), (.5, 2.2), (-.1, 1.6), (-.3, -2.7), (-.1, -1.6), (-4.1, -1), (-3.6, -.8), (-3.2, -1.1), (-1.5, -1.1),
    (2.1, .2), (1.1, -1.2), (1.8, -.6), (.5, -1.6)]
SWEDEN_23_GSEL = [(-4.1, 3.1), (2, 2.9), (1.5, 2.6), (-.3, 2.5), (-.1, 2.2), (.4, 1.9), (-1.6, 1.8), (-1, 1.5), (1.7, 1.9), (1.1, 1.8), (.9, 1.6), (.1, 1.2),
    (1.2, 1.1), (1.7, .9), (-.6, .9), (2.5, 1.1), (3, 1.2), (1.8, .7), (1.9, .4), (-2.7, .8), (-3.8, .4), (-2.3, .3), (-2.8, .2), (-4.8, -.3), (-4.5, -.2),
    (-4.2, -.1), (-4.4, -.8), (-2.6, -.2), (-2.3, -.5), (-2.6, -1), (-2.8, -1.5), (-3.8, -2), (-3.9, -2.1), (-3.5, -3.7), (-1.1, -.5), (-1.5, -.3), (-.8, -.5),
    (-1.1, -1.1), (-.5, -1), (.5, -1.1), (4, -.6), (1.7, -.6), (3, -1.4), (2.7, -1.9), (-1.1, -1.9), (.4, -2), (.5, -1.6), (.5, -2.2), (-.1, -3), (9.1, -3.3),
    (1.2, .3)]
SWEDEN_23_LOCAL = [(.1, 1.2), (-.3, .9), (.5, .7), (-.8, .1), (-.5, 0), (-.1, .4), (.4, .3), (.9, .2), (-.1, -.1), (.2, -.5), (.7, -.6), (1.1, -.3), (.1, -.7),
    (-.2, -.3)]

USA_23_COUNTRY_DENSE = [(-3.9, 2.2), (-2.8, 2.2), (-1.8, 2.1), (-4.6, 1.2), (-3.5, 1.2), (-2.4, 1.2), (-1.3, 1.2), (-5, .2), (-3.9, .2), (-2.8, .2), (-1.7, .2),
    (-.7, .2), (-5, -.8), (-3.9, -.8), (-2.8, -.8), (-1.7, -.8), (-.6, -.8), (.4, -.8), (-4.6, -1.8), (-3.5, -1.8), (-2.4, -1.8), (-1.3, -1.8), (-.2, -1.8),
    (.9, -1.7), (2, -1.7), (3, -1.8), (-3.9, -2.6), (-2.8, -2.7), (-1.7, -2.7), (-.6, -2.6), (.5, -2.6), (1.6, -2.5)]
USA_23_COUNTRY = [(-4.1, 3.6), (-3.1, 3.3), (-6.8, 2.4), (-5.9, 2.3), (-5.3, 2), (-6.5, 1.7), (-6.2, 1.2), (-6.1, .8), (-6.1, .1), (-6.7, -.3), (-6.9, -1),
    (-7.7, -2.5), (-5.8, -1.7), (-5.5, -1.1), (-4.4, -3.5), (-5.5, -4), (-3.6, -3.7), (-3.2, -3.8), (-2.5, -3.5), (-2.2, -3.9), (-1.5, -4.4), (0, -3.6), (.4, -3.5),
    (.8, -2.8), (1.7, -3.2), (2.4, -2.8), (2.9, -3.1), (3.9, -2.4), (5.5, -2.3), (6.6, -2.1), (5.4, -1.6), (-4.3, 2.2), (-3.2, 2.3), (-1.3, 1.7), (-4.6, -3.1),
    (-5.5, -2.3), (3.4, -1.8)]
USA_23_CSEL = [(-2.8, -.3), (-2.3, -.6), (-2.8, -1), (-2.1, -1.1), (-2.5, -1.2), (-2.5, .6), (-3.8, 0), (-3.8, 1.2), (-5.1, -1.2), (-3.1, -1.7), (-1.8, -2.5),
    (-1, -2), (-1, -2.2), (.2, -1.3), (1.2, -2.4), (1.9, -2.4), (-.3, -.2), (-2.1, .2), (-3.2, -.5), (-2.3, -.1), (-3.5, .4), (-1.8, -.6), (-3, -.9), (-2.6, -.6),
    (-2.2, -.9), (-3.2, -.2), (-2.5, -1.4), (-2.7, -.1), (-2, -.4)]
USA_23_GSEL = [(.6, 3.2), (.1, 2.6), (.4, 2.6), (.6, 2.5), (0, 1.7), (.7, 1.8), (1.7, 1.7), (1.3, 1.3), (-.3, 1.1), (.5, 1.1), (1.2, 1.1), (2.3, 1), (-.1, .8), (2.9, .7),
    (3.2, .6), (3.9, .6), (-3.1, .5), (-3.5, -.2), (-3.8, -.5), (-4, -.9), (-3.6, -.8), (-2.2, .2), (-1.6, 0), (-1.9, -.3), (-1.5, -.6), (-1.8, -.8), (-1.8, -1.2),
    (-.8, -.7), (-.5, -.7), (0, -.8), (-.9, 0), (-.6, -.1), (-5.7, -.6), (-5.6, -2.4), (-3.1, -1.6), (-.8, -1.3), (-.3, -2.1), (.1, -2), (.5, -1.7), (.9, -1.3),
    (1.5, -1), (1.8, -1.3), (1.5, -1.8), (2, -1.8), (3.1, -1.3), (2.5, -.8), (2.8, -.6), (3.1, -.5), (2.8, -.1), (3.1, .2), (4.3, -.7), (4.9, -1), (5.5, -1.4),
    (6.2, -.5), (7.3, -.7), (3.9, -1.8), (4.2, -1.9), (3.1, -2.4), (5.7, -2.9), (6.1, -2.6), (7.6, -2.8), (7.9, -2.6), (2.5, -3.3)]
USA_23_LOCAL = [(-1.3, .6), (-1, .4), (-.6, 0), (-.6, -.3), (.4, .8), (.7, .4), (1.1, .6), (.4, .2), (.8, -.1), (.5, -.3), (.4, -.6), (.8, -.7), (1.6, -.3), (2.1, .4),
    (2.5, .3), (1.9, -.1), (3.5, -.2), (5.2, .1), (5.2, -.1), (-.1, 0)]

PANELS_12 = {
    "China": (CHINA_12_COUNTRY_DENSE, CHINA_12_COUNTRY, CHINA_12_CSEL, CHINA_12_GSEL, CHINA_12_LOCAL),
    "Sweden": (SWEDEN_12_COUNTRY_DENSE, SWEDEN_12_COUNTRY, SWEDEN_12_CSEL, SWEDEN_12_GSEL, SWEDEN_12_LOCAL),
    "USA": (USA_12_COUNTRY_DENSE, USA_12_COUNTRY, USA_12_CSEL, USA_12_GSEL, USA_12_LOCAL),
}
PANELS_23 = {
    "China": (CHINA_23_COUNTRY_DENSE, CHINA_23_COUNTRY, CHINA_23_CSEL, CHINA_23_GSEL, CHINA_23_LOCAL),
    "Sweden": (SWEDEN_23_COUNTRY_DENSE, SWEDEN_23_COUNTRY, SWEDEN_23_CSEL, SWEDEN_23_GSEL, SWEDEN_23_LOCAL),
    "USA": (USA_23_COUNTRY_DENSE, USA_23_COUNTRY, USA_23_CSEL, USA_23_GSEL, USA_23_LOCAL),
}

W, H = 1299, 936
fig = plt.figure(figsize=(W / 100, H / 100), dpi=100, facecolor="white")


def px_axes(left, top, right, bottom):
    return fig.add_axes([left / W, 1 - bottom / H, (right - left) / W, (bottom - top) / H])


def style(ax, title, show_x):
    for s in ax.spines.values():
        s.set_color("#555555")
        s.set_linewidth(1.0)
        s.set_visible(True)
    ax.set_title(title, fontsize=14.6, color="#1a1a1a", pad=6.5)
    ax.grid(False)
    ax.set_facecolor("white")
    ax.tick_params(axis="y", left=True, length=3, width=.9, color="#333333", labelsize=12.4, labelcolor="#4d4d4d", pad=2.5)
    if show_x:
        ax.tick_params(axis="x", bottom=True, length=3, width=.9, color="#333333", labelsize=12.4, labelcolor="#4d4d4d", pad=2.5)
    else:
        ax.tick_params(axis="x", bottom=False, labelbottom=False)
    ax.set_xlabel("")
    ax.set_ylabel("")


def dots(ax, pts, color, s, alpha=1.0):
    df = pd.DataFrame(pts, columns=["a", "b"])
    sns.scatterplot(data=df, x="a", y="b", color=color, s=s, alpha=alpha, linewidth=0, ax=ax, legend=False)


ROW_TOPS = [47, 327, 607]
GREY, ORANGE, ORANGE_SOLID, YELLOW, BLUE, RED = "#C6C6C6", "#FFB06A", "#FFB56E", "#FFDD8E", "#0072B2", "#CC0011"

for top, country in zip(ROW_TOPS, COUNTRIES):
    bottom = top + 236
    last = country == "USA"

    # density
    ax = px_axes(69, top, 652, bottom)
    for src, (dens, peak) in zip(SOURCES, DENSITY[country]):
        merged = sorted(list(zip(SOC, dens)) + peak)
        xs = [p[0] for p in merged]
        ys = [p[1] for p in merged]
        ax.fill_between(xs, 0, ys, color=FILLS[src], alpha=.3, linewidth=0)
        sns.lineplot(x=xs, y=ys, color=COLORS[src], linewidth=1.5, errorbar=None, ax=ax, legend=False)
    ax.set_xlim(-.34, 7.34)
    ax.set_ylim(-.0525, 1.1275)
    ax.set_xticks([0, 2, 4, 6])
    ax.set_yticks([0, .3, .6, .9], ["0.0", "0.3", "0.6", "0.9"])
    style(ax, country, last)

    # PC1 / PC2
    ax = px_axes(725, top, 981, bottom)
    dense, cn, csel, gsel, loc = PANELS_12[country]
    dots(ax, GLOBAL_12_DENSE, GREY, 200)
    dots(ax, GLOBAL_12_RIM, GREY, 40, .85)
    dots(ax, GLOBAL_12_SPREAD, GREY, 28, .7)
    dots(ax, dense, ORANGE_SOLID, 130)
    dots(ax, cn, ORANGE, 28, .8)
    dots(ax, csel, YELLOW, 28)
    dots(ax, gsel, BLUE, 27)
    dots(ax, loc, RED, 27)
    ax.set_xlim(-17.85, 10.2)
    ax.set_ylim(-8.73, 12.73)
    ax.set_xticks([-10, 0, 10])
    ax.set_yticks([-5, 0, 5, 10])
    style(ax, country, last)

    # PC2 / PC3
    ax = px_axes(1063, top, 1311, bottom)
    dense, cn, csel, gsel, loc = PANELS_23[country]
    dots(ax, GLOBAL_23_DENSE, GREY, 190)
    dots(ax, GLOBAL_23_RIM, GREY, 40, .85)
    dots(ax, GLOBAL_23_SPREAD, GREY, 28, .7)
    dots(ax, dense, ORANGE_SOLID, 130)
    dots(ax, cn, ORANGE, 28, .8)
    dots(ax, csel, YELLOW, 28)
    dots(ax, gsel, BLUE, 27)
    dots(ax, loc, RED, 27)
    ax.set_xlim(-8.65, 12.6)
    ax.set_ylim(-10.08, 7.67)
    ax.set_xticks([-5, 0, 5, 10])
    ax.set_yticks([-10, -5, 0, 5])
    style(ax, country, last)

# axis labels and panel letters
fig.text(361 / W, 1 - 881 / H, "SOC", ha="center", va="center", fontsize=15, color="black")
fig.text(852 / W, 1 - 881 / H, "PC1", ha="center", va="center", fontsize=15, color="black")
fig.text(1187 / W, 1 - 881 / H, "PC2", ha="center", va="center", fontsize=15, color="black")
fig.text(21 / W, 1 - 445 / H, "Density", ha="center", va="center", rotation=90, fontsize=15, color="black")
fig.text(680 / W, 1 - 445 / H, "PC2", ha="center", va="center", rotation=90, fontsize=15, color="black")
fig.text(1009 / W, 1 - 445 / H, "PC3", ha="center", va="center", rotation=90, fontsize=15, color="black")
fig.text(16 / W, 1 - 22 / H, "a", ha="center", va="center", fontsize=16, fontweight="bold", color="black")
fig.text(677 / W, 1 - 22 / H, "b", ha="center", va="center", fontsize=16, fontweight="bold", color="black")

handles = [Patch(facecolor=LEGEND_FILLS[s], edgecolor=COLORS[s], linewidth=1.2, label=s) for s in SOURCES]
fig.legend(handles=handles, ncols=5, loc="upper left", bbox_to_anchor=(223 / W, 1 - 912 / H), frameon=False,
           fontsize=14.85, handlelength=1.36, handleheight=1.55, handletextpad=.47, columnspacing=.52,
           borderpad=0, borderaxespad=0, labelcolor="black")

fig.savefig("out.png", dpi=100, facecolor="white")
